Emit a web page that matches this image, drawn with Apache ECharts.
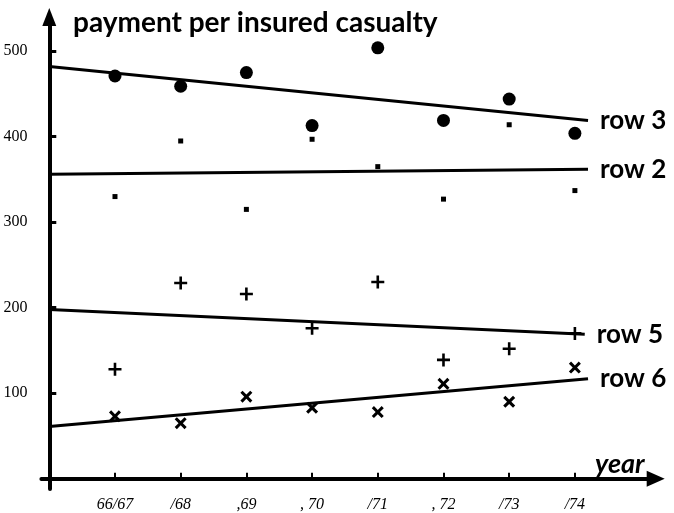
<!DOCTYPE html>
<html>
<head>
<meta charset="utf-8">
<script src="https://cdn.jsdelivr.net/npm/echarts@6/dist/echarts.min.js"></script>
<style>
  html, body { margin: 0; padding: 0; background: #fff; }
  #chart { width: 674px; height: 513px; }
</style>
</head>
<body>
<div id="chart"></div>
<script>
// year positions on the x axis and their hand written labels
const yearPos = [1, 2, 3, 4, 5, 6, 7, 8];
const yearLabels = ['66/67', '/68', ',69', ', 70', '/71', ', 72', '/73', '/74'];
const yTicks = [100, 200, 300, 400, 500];

// payment per insured casualty
const row3 = [471, 459, 475, 413, 504, 419, 444, 404];
const row2 = [330, 395, 315, 397, 365, 327, 414, 337];
const row5 = [128, 229, 216, 176, 230, 139, 152, 170];
const row6 = [73, 65, 96, 83, 78, 111, 90, 130];

// fitted trend lines, [year position, payment] at each end
const trend3 = [[0, 482], [8.2, 419]];
const trend2 = [[0, 356], [8.2, 362]];
const trend5 = [[0, 198], [8.15, 169]];
const trend6 = [[0, 61], [8.2, 117]];

const INK = '#000';
const PLUS = 'path://M4,0H6V4H10V6H6V10H4V6H0V4H4Z';
const CROSS = 'path://M0,1.8L1.8,0L5,3.2L8.2,0L10,1.8L6.8,5L10,8.2L8.2,10L5,6.8L1.8,10L0,8.2L3.2,5Z';

let pts = (vals) => vals.map((v, i) => [yearPos[i], v]);

let trendSeries = (name, data) => ({
  name: name,
  type: 'line',
  data: data,
  symbol: 'none',
  silent: true,
  lineStyle: { color: INK, width: 3 },
  endLabel: {
    show: true,
    formatter: name,
    distance: 12,
    color: INK,
    fontFamily: 'Lato',
    fontWeight: 'bold',
    fontSize: 26
  }
});

let dotSeries = (name, vals, symbol, size) => ({
  name: name,
  type: 'scatter',
  data: pts(vals),
  symbol: symbol,
  symbolSize: size,
  itemStyle: { color: INK, opacity: 1 }
});

let chart = echarts.init(document.getElementById('chart'));

chart.setOption({
  animation: false,
  backgroundColor: '#fff',
  title: [
    {
      text: 'payment per insured casualty',
      left: 68,
      top: 4,
      textStyle: { color: INK, fontFamily: 'Lato', fontWeight: 'bold', fontSize: 28 }
    },
    {
      text: 'year',
      left: 590,
      top: 446,
      textStyle: { color: INK, fontFamily: 'Lato', fontWeight: 'bold', fontStyle: 'italic', fontSize: 27 }
    }
  ],
  grid: { left: 41.4, right: 18.3, top: 17, bottom: 18.6 },
  xAxis: {
    type: 'value',
    min: -0.12,
    max: 9.23,
    splitLine: { show: false },
    axisLine: {
      onZero: true,
      symbol: ['none', 'triangle'],
      symbolSize: [16, 18],
      lineStyle: { color: INK, width: 4 }
    },
    axisTick: {
      customValues: yearPos,
      inside: true,
      length: 6,
      lineStyle: { color: INK, width: 2 }
    },
    axisLabel: {
      customValues: yearPos,
      formatter: (v) => yearLabels[yearPos.indexOf(v)],
      margin: 8,
      color: INK,
      fontFamily: 'Liberation Serif',
      fontStyle: 'italic',
      fontSize: 16
    }
  },
  yAxis: {
    type: 'value',
    min: -12,
    max: 540,
    splitLine: { show: false },
    axisLine: {
      onZero: true,
      symbol: ['none', 'triangle'],
      symbolSize: [14, 18],
      lineStyle: { color: INK, width: 4 }
    },
    axisTick: {
      customValues: yTicks,
      inside: true,
      length: 7,
      lineStyle: { color: INK, width: 3 }
    },
    axisLabel: {
      customValues: yTicks,
      margin: 14,
      color: INK,
      fontFamily: 'Liberation Serif',
      fontSize: 16
    }
  },
  series: [
    trendSeries('row 3', trend3),
    trendSeries('row 2', trend2),
    trendSeries('row 5', trend5),
    trendSeries('row 6', trend6),
    dotSeries('row 3 values', row3, 'circle', 13),
    dotSeries('row 2 values', row2, 'rect', 5),
    dotSeries('row 5 values', row5, PLUS, 13),
    dotSeries('row 6 values', row6, CROSS, 12)
  ]
});
</script>
</body>
</html>
